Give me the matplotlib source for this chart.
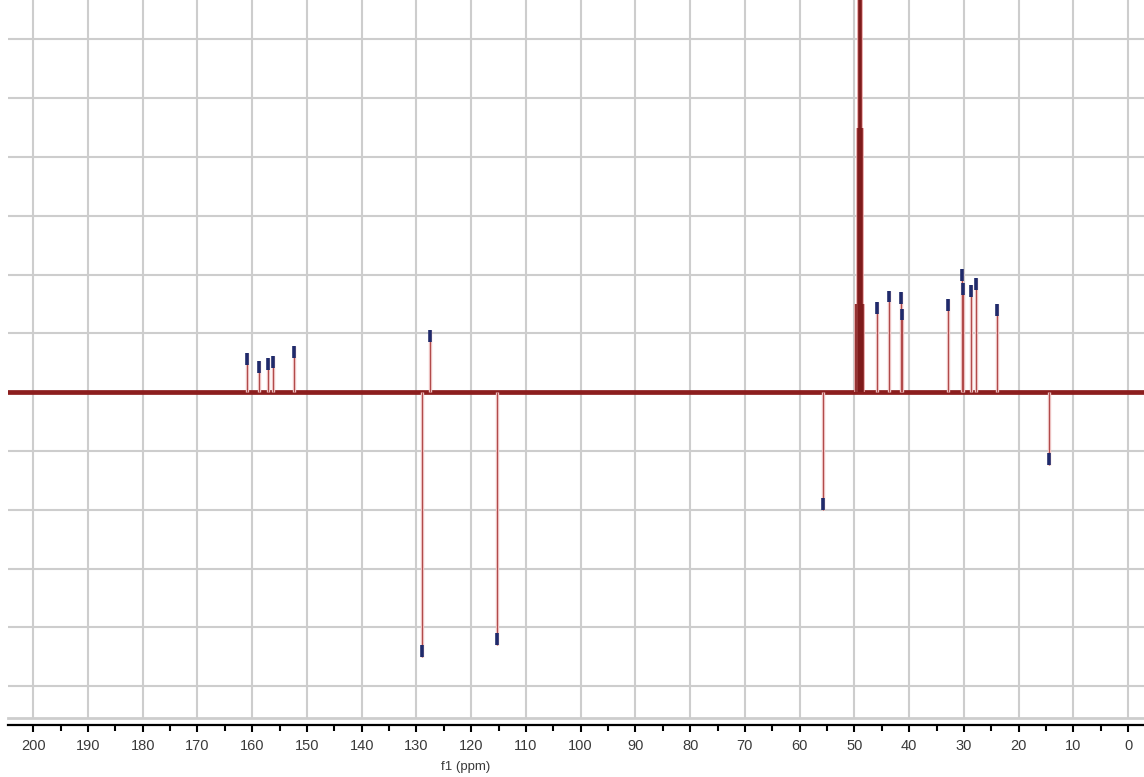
import numpy as np
import matplotlib
matplotlib.use('Agg')
import matplotlib.pyplot as plt
from matplotlib.ticker import MultipleLocator

# peak positions (ppm) and heights (grid units, baseline = 0)
pos_ppm = [161.0, 158.8, 157.1, 156.2, 152.3, 127.6,
           45.8, 43.6, 41.55, 41.35, 32.9, 30.3, 30.1, 28.7, 27.8, 23.9]
pos_height = [0.66, 0.53, 0.58, 0.62, 0.78, 1.05,
              1.53, 1.73, 1.70, 1.42, 1.58, 2.09, 1.85, 1.82, 1.94, 1.50]

neg_ppm = [128.9, 115.2, 55.8, 14.5]
neg_height = [-4.5, -4.3, -2.0, -1.24]

# solvent septet (CD3OD), no peak labels
solv_ppm = [49.64, 49.43, 49.21, 49.00, 48.79, 48.57, 48.36]
solv_height = [1.5, 4.5, 9.0, 10.5, 9.0, 4.5, 1.5]

xticks = list(range(200, -1, -10))

fig = plt.figure(figsize=(11.44, 7.77), dpi=100)
ax = fig.add_axes([0.007, 0.0759, 0.993, 0.9241])

ax.set_xlim(204.6, -2.9)
ax.set_ylim(-5.54, 6.67)

# grid
for x in xticks:
    ax.axvline(x, color='#cdcdcd', lw=1.5, zorder=0)
for y in range(-5, 7):
    ax.axhline(y, color='#cdcdcd', lw=1.5, zorder=0)
ax.axhline(-5.54, color='#cdcdcd', lw=2.0, zorder=0, clip_on=False)

# baseline
ax.axhline(0, color='#8c1e1e', lw=3.4, zorder=2)

# peaks
all_ppm = pos_ppm + neg_ppm
all_h = pos_height + neg_height
ax.vlines(all_ppm, 0, all_h, color='#ecc0c0', lw=2.4, zorder=3)
ax.vlines(all_ppm, 0, all_h, color='#b04848', lw=0.7, zorder=3)

# solvent
ax.vlines(solv_ppm, 0, solv_height, color='#e9a0a0', lw=2.6, zorder=3)
ax.vlines(solv_ppm, 0, solv_height, color='#7a1414', lw=1.1, zorder=4)

# peak pick markers
for p, h in zip(all_ppm, all_h):
    d = 0.2 if h > 0 else -0.2
    ax.plot([p, p], [h - d, h], color='#1f2a6b', lw=2.6, zorder=5,
            solid_capstyle='butt')

# axes style
for s in ['top', 'left', 'right']:
    ax.spines[s].set_visible(False)
ax.spines['bottom'].set_position(('outward', 5))
ax.spines['bottom'].set_linewidth(1.6)
ax.set_yticks([])
ax.set_xticks(xticks)
ax.xaxis.set_minor_locator(MultipleLocator(5))
ax.tick_params(axis='x', which='major', direction='out', length=5, width=1.5,
               labelsize=10.5, labelcolor='#3a3a3a', pad=5)
ax.tick_params(axis='x', which='minor', direction='out', length=4, width=1.5)
for lab in ax.get_xticklabels():
    lab.set_family('Liberation Sans')
ax.set_xlabel('f1 (ppm)', fontsize=9.5, color='#3a3a3a', family='Liberation Sans')
ax.xaxis.set_label_coords(0.403, -0.06)

fig.savefig('out.png', dpi=100)
